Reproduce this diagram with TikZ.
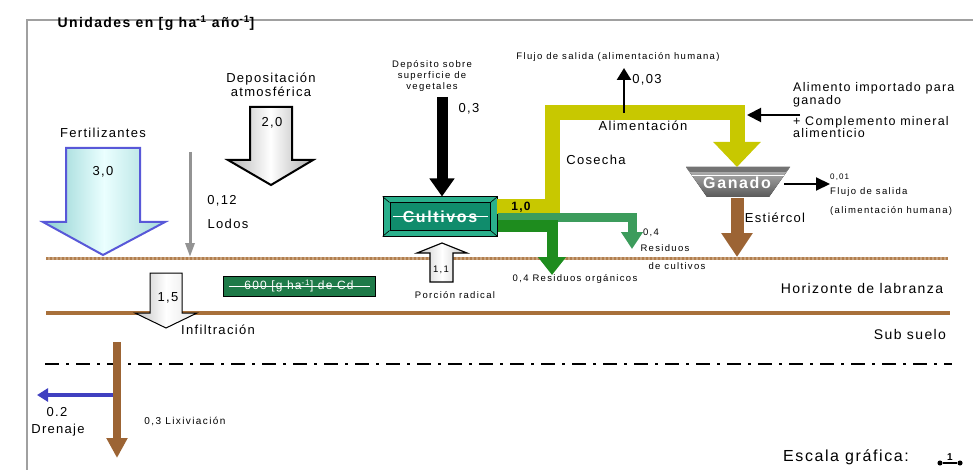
\documentclass[tikz,border=0pt]{standalone}
\usepackage{fontspec}
\setmainfont{Liberation Sans}[LetterSpace=10]
\newfontfamily\smallfam{Liberation Sans}[LetterSpace=14]
\usepackage{tikz}
\usetikzlibrary{positioning}
\usetikzlibrary{calc}
\usetikzlibrary{arrows.meta}
\definecolor{framegray}{HTML}{A0A0A0}
\definecolor{soiltop}{HTML}{C9A27C}
\definecolor{soilbot}{HTML}{A8703A}
\definecolor{cosecha}{HTML}{C8C800}
\definecolor{darkgreen}{HTML}{1E8C1E}
\definecolor{midgreen}{HTML}{3C9C5C}
\definecolor{estiercol}{HTML}{9C6434}
\definecolor{fertblue}{HTML}{5858D8}
\definecolor{fertcyan}{HTML}{8CCFCF}
\definecolor{cultlight}{HTML}{2AB08C}
\definecolor{cultdark}{HTML}{108C6C}
\definecolor{cdgreen}{HTML}{1E7A48}
\definecolor{drenblue}{HTML}{4040C0}
\tikzset{dot/.style={circle, fill, inner sep=1.8pt}}
\tikzset{lbl/.style={font=\fontsize{13}{14}\selectfont, inner sep=0pt}}
\tikzset{tinylbl/.style={font=\smallfam\fontsize{9.5}{11}\selectfont, inner sep=0pt}}
\tikzset{grayblock/.style={draw=black, line width=2pt, left color=gray!60, right color=gray!65, middle color=white}}

\begin{document}
\begin{tikzpicture}[x=1pt, y=-1pt]
\useasboundingbox (0,0) rectangle (973,470);
% marco
\draw[framegray, line width=2pt] (27,470) -- (27,20) -- (973,20);
\node[font=\bfseries\fontsize{14}{16}\selectfont, inner sep=0pt] (unidades) at (156,23) {Unidades en [g ha\textsuperscript{-1} año\textsuperscript{-1}]};

% horizontes
\coordinate (h1a) at (46,258);
\coordinate (h1b) at (948,258);
\coordinate (h2a) at (46,313);
\coordinate (h2b) at (950,313);
\coordinate (h3a) at (45,364);
\coordinate (h3b) at (952,364);
\draw[soiltop, line width=3pt] (h1a) -- (h1b);
\draw[soilbot!70!soiltop, line width=3pt, dash pattern=on 1.5pt off 2.5pt] (h1a) -- (h1b);
\draw[soilbot, line width=4pt] (h2a) -- (h2b);
\draw[line width=2pt, dash pattern=on 14pt off 7pt on 3pt off 7pt] (h3a) -- (h3b);
\node[lbl, font=\fontsize{14}{15}\selectfont] (horizonte) at (862,288) {Horizonte de labranza};
\node[lbl, font=\fontsize{14}{15}\selectfont] (subsuelo) at (910,334) {Sub suelo};

% fertilizantes
\draw[draw=fertblue, line width=2pt, left color=fertcyan, right color=fertcyan!80, middle color=cyan!8]
  (66,148) -- (140,148) -- (140,222) -- (165,222) -- (103,255) -- (43,222) -- (66,222) -- cycle;
\node[lbl] (fert) at (103,133) {Fertilizantes};
\node[lbl] (fertval) at (103,172) {3,0};

% lodos
\coordinate (lodos0) at (190,152);
\coordinate (lodos1) at (190,257);
\draw[gray!85, line width=3pt, -{Triangle[length=14pt, width=9pt]}] (lodos0) -- (lodos1);
\node[lbl] (lodosval) at (222,201) {0,12};
\node[lbl] (lodos) at (228,224) {Lodos};

% depositacion atmosferica
\draw[grayblock] (250,107) -- (292,107) -- (292,160) -- (313,160) -- (271,185) -- (228,160) -- (250,160) -- cycle;
\node[lbl, align=center] (depo) at (271,85) {Depositación\\atmosférica};
\node[lbl] (depoval) at (272,123) {2,0};

% infiltracion
\draw[draw=black, line width=1pt, left color=gray!50, right color=gray!20, middle color=white]
  (150,273) -- (182,273) -- (182,313) -- (197,313) -- (166,328) -- (135,313) -- (150,313) -- cycle;
\node[lbl] (infval) at (168,298) {1,5};
\node[lbl] (infil) at (218,330) {Infiltración};

% caja de Cd
\node[draw=black, line width=1pt, fill=cdgreen, text=white, minimum width=152pt, minimum height=20pt, inner sep=0pt,
  font=\fontsize{12}{12}\selectfont] (cdbox) at (299,286) {600 [g ha\textsuperscript{-1}] de Cd};
\draw[white, line width=0.8pt] ($(cdbox.west)+(6,0)$) -- ($(cdbox.east)+(-6,0)$);

% cultivos
\node[draw=black, line width=1pt, fill=cultlight, minimum width=114pt, minimum height=39pt, inner sep=0pt] (cultframe) at (440,216.5) {};
\node[draw=black, line width=1pt, fill=cultdark, minimum width=100pt, minimum height=27pt, inner sep=0pt] (cultin) at (cultframe) {};
\foreach \c in {north west, north east, south west, south east}
  \draw[black, line width=0.6pt] (cultframe.\c) -- (cultin.\c);
\draw[white, line width=0.8pt] ($(cultin.west)+(3,0)$) -- ($(cultin.east)+(-3,0)$);
\node[text=white, font=\bfseries\fontsize{16}{16}\selectfont, inner sep=0pt] (cultivos) at (cultframe) {Cultivos};

% deposito sobre vegetales
\coordinate (dep0) at (442,97);
\draw[black, line width=11pt, -{Triangle[length=18pt, width=24pt]}] (dep0) -- (cultframe.north -| dep0);
\node[tinylbl, align=center] (depveg) at (432,76) {Depósito sobre\\superficie de\\vegetales};
\node[lbl] (depval) at (469,109) {0,3};

% porcion radical
\draw[draw=black, line width=1.2pt, left color=gray!45, right color=gray!45, middle color=white]
  (430,282) -- (453,282) -- (453,253) -- (467,253) -- (442,243) -- (417,253) -- (430,253) -- cycle;
\node[tinylbl] (radval) at (441,270) {1,1};
\node[tinylbl] (radical) at (455,295) {Porción radical};

% ganado
\fill[top color=gray!55, bottom color=gray!70!black] (686,167) -- (790,167) -- (769,197) -- (707,197) -- cycle;
\fill[gray!90!black] (686,167) -- (790,167) -- (786,172) -- (690,172) -- cycle;
\draw[white, line width=1pt] (692,176) -- (784,176);
\node[text=white, font=\bfseries\fontsize{16}{16}\selectfont, inner sep=0pt, minimum width=62pt, minimum height=30pt] (ganado) at (737,183) {Ganado};

% cosecha
\coordinate (cos0) at (497,207);
\coordinate (cos1) at (552,207);
\coordinate (cos2) at (552,113);
\coordinate (cos3) at (737,113);
\draw[cosecha, line width=15pt, -{Triangle[length=25pt, width=46pt]}] (cos0) -- (cos1) -- (cos2) -- (cos3) -- (737,167);
\node[font=\bfseries\fontsize{12}{14}\selectfont, inner sep=0pt] (cosval) at (521,207) {1,0};
\node[lbl] (cosecha) at (596,160) {Cosecha};
\node[lbl] (alim) at (643,126) {Alimentación};

% flujo de salida superior
\coordinate (fs0) at (624,113);
\coordinate (fs1) at (624,68);
\draw[black, line width=2.5pt, -{Triangle[length=12pt, width=14pt]}] (fs0) -- (fs1);
\node[tinylbl] (flujo1) at (618,57) {Flujo de salida (alimentación humana)};
\node[lbl] (flujoval1) at (647,80) {0,03};

% alimento importado
\coordinate (ai0) at (800,115);
\coordinate (ai1) at (747,115);
\draw[black, line width=2pt, -{Triangle[length=14pt, width=14pt]}] (ai0) -- (ai1);
\node[lbl, align=left, anchor=west, font=\fontsize{12.5}{11}\selectfont] (alimimp) at (793,95) {Alimento importado para\\ganado};
\node[lbl, align=left, anchor=west, font=\fontsize{12.5}{11}\selectfont] (compl) at (793,127) {+ Complemento mineral\\alimenticio};

% flujo de salida de ganado
\coordinate (fs2) at (784,184);
\coordinate (fs3) at (830,184);
\draw[black, line width=2pt, -{Triangle[length=14pt, width=13pt]}] (fs2) -- (fs3);
\node[tinylbl, anchor=west, font=\smallfam\fontsize{8}{8}\selectfont] (flujoval2) at (830,177) {0,01};
\node[tinylbl, anchor=west] (flujo2) at (830,192) {Flujo de salida};
\node[tinylbl, anchor=west] (flujo3) at (830,211) {(alimentación humana)};

% estiercol
\draw[estiercol, line width=13pt, -{Triangle[length=24pt, width=30pt]}] (ganado.south) -- (737,257);
\node[lbl] (estiercol) at (775,218) {Estiércol};

% residuos de cultivos
\coordinate (rc0) at ($(cultframe.east)+(0,1.5)$);
\coordinate (rc1) at (632,218);
\coordinate (rc2) at (632,249);
\draw[midgreen, line width=9pt, -{Triangle[length=17pt, width=21pt]}] (rc0) -- (rc1) -- (rc2);
\node[tinylbl] (rcval) at (651,233) {0,4};
\node[tinylbl] (rc) at (665,248) {Residuos};
\node[tinylbl] (rcc) at (677,266) {de cultivos};

% residuos organicos
\coordinate (ro0) at ($(cultframe.east)+(0,9.5)$);
\coordinate (ro1) at (552,226);
\coordinate (ro2) at (552,275);
\draw[darkgreen, line width=11pt, -{Triangle[length=18pt, width=27pt]}] (ro0) -- (ro1) -- (ro2);
\node[tinylbl] (ro) at (575,279) {0,4 Residuos orgánicos};

% lixiviacion y drenaje
\coordinate (lix0) at (117,342);
\coordinate (lix1) at (117,458);
\coordinate (dren0) at (113,395);
\coordinate (dren1) at (37,395);
\draw[estiercol, line width=8pt, -{Triangle[length=20pt, width=20pt]}] (lix0) -- (lix1);
\draw[drenblue, line width=4pt, -{Triangle[length=11pt, width=13pt]}] (dren0) -- (dren1);
\node[tinylbl, font=\smallfam\fontsize{10}{11}\selectfont] (lix) at (185,421) {0,3 Lixiviación};
\node[lbl] (drenval) at (57,412) {0.2};
\node[lbl] (dren) at (58,430) {Drenaje};

% escala grafica
\node[lbl, font=\fontsize{16}{18}\selectfont] (escala) at (846,457) {Escala gráfica:};
\node[dot] (esc0) at (940,463) {};
\node[dot] (esc1) at (960,463) {};
\draw[line width=1.5pt] (esc0) -- (esc1);
\node[font=\bfseries\fontsize{10}{10}\selectfont, inner sep=0pt, above=2pt of $(esc0)!0.5!(esc1)$] (escval) {1};
\end{tikzpicture}
\end{document}
